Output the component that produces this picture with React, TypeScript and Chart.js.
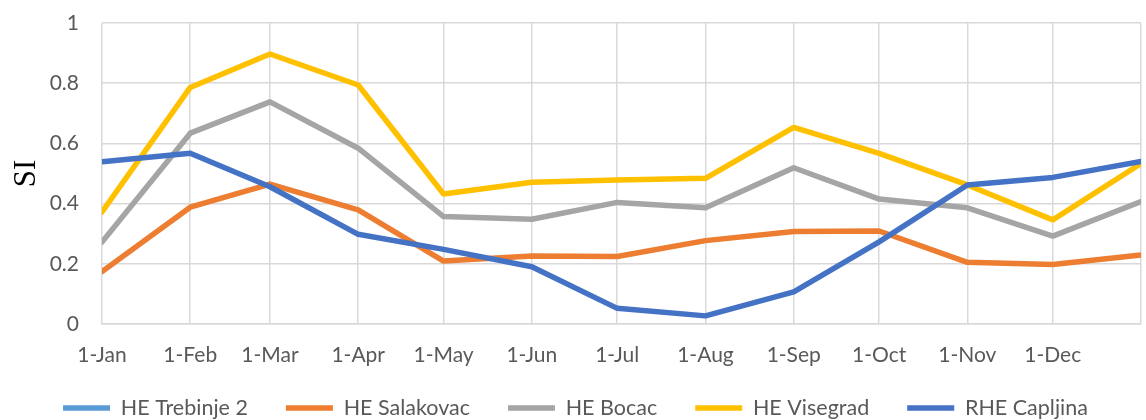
import React, { useEffect, useRef } from "react";
import { Chart, registerables } from "chart.js";

Chart.register(...registerables);

// Day-of-year for each month start (date axis), last entry = next 1-Jan
const monthDays = [0, 31, 59, 90, 120, 151, 181, 212, 243, 273, 304, 334, 365];
const monthLabels = ["1-Jan", "1-Feb", "1-Mar", "1-Apr", "1-May", "1-Jun", "1-Jul", "1-Aug", "1-Sep", "1-Oct", "1-Nov", "1-Dec", ""];
const yTicks = [0, 0.2, 0.4, 0.6, 0.8, 1];

const trebinje2: (number | null)[] = [null, null, null, null, null, null, null, null, null, null, null, null, null];
const salakovac = [0.174, 0.388, 0.465, 0.379, 0.209, 0.226, 0.224, 0.277, 0.307, 0.309, 0.205, 0.198, 0.229];
const bocac = [0.272, 0.634, 0.738, 0.584, 0.357, 0.348, 0.404, 0.386, 0.519, 0.415, 0.386, 0.292, 0.407];
const visegrad = [0.372, 0.786, 0.897, 0.794, 0.432, 0.471, 0.478, 0.484, 0.653, 0.567, 0.462, 0.346, 0.533];
const capljina = [0.539, 0.567, 0.456, 0.298, 0.248, 0.19, 0.052, 0.027, 0.107, 0.273, 0.462, 0.487, 0.54];

const seriesNames = ["HE Trebinje 2", "HE Salakovac", "HE Bocac", "HE Visegrad", "RHE Capljina"];
const seriesColors = ["#5B9BD5", "#ED7D31", "#A5A5A5", "#FFC000", "#4472C4"];
const seriesValues = [trebinje2, salakovac, bocac, visegrad, capljina];

const TEXT = "#595959";
const GRID = "#D9D9D9";
const TRANSPARENT = "rgba(0,0,0,0)";
const LEGEND_FONT = 21.5;
const LEGEND_PAD = 38;
const LEGEND_TEXT_Y = 408;
const X_AXIS_H = 48;
const PLOT_TOP = 23;
const PLOT_BOTTOM = 324;

const legendPlace = {
  id: "legendPlace",
  afterLayout(chart: any) {
    const lg = chart.legend;
    if (!lg) return;
    const d = LEGEND_TEXT_Y - (lg.top + LEGEND_PAD + LEGEND_FONT / 2);
    lg.top += d;
    lg.bottom += d;
  },
};

export default function App() {
  const ref = useRef<HTMLCanvasElement | null>(null);

  useEffect(() => {
    if (!ref.current) return;
    const datasets = seriesNames.map((name, i) => ({
      label: name,
      data: monthDays.map((d, j) => ({ x: d, y: seriesValues[i][j] })),
      borderColor: seriesColors[i],
      backgroundColor: seriesColors[i],
      borderWidth: 5.5,
      borderCapStyle: "round" as const,
      borderJoinStyle: "round" as const,
      pointRadius: 0,
      pointHoverRadius: 0,
      tension: 0,
      fill: false,
      order: seriesNames.length - i,
    }));

    const legendH = LEGEND_FONT + LEGEND_PAD + 10;
    const bottomPad = 420 - PLOT_BOTTOM - legendH - X_AXIS_H;

    const chart = new Chart(ref.current, {
      type: "line",
      data: { datasets },
      plugins: [legendPlace],
      options: {
        animation: false,
        responsive: false,
        layout: { padding: { left: 0, right: 9, top: PLOT_TOP, bottom: bottomPad } },
        plugins: {
          tooltip: { enabled: false },
          legend: {
            position: "bottom",
            labels: {
              usePointStyle: true,
              pointStyle: "line",
              pointStyleWidth: 47,
              boxHeight: 5,
              padding: LEGEND_PAD,
              color: TEXT,
              font: { family: "Lato", size: LEGEND_FONT },
              sort: (a: any, b: any) => a.datasetIndex - b.datasetIndex,
            },
          },
        },
        scales: {
          x: {
            type: "linear",
            min: 0,
            max: 365,
            afterBuildTicks: (s: any) => {
              s.ticks = monthDays.map((v) => ({ value: v }));
            },
            afterFit: (s: any) => {
              s.height = X_AXIS_H;
            },
            ticks: {
              autoSkip: false,
              maxRotation: 0,
              padding: 19,
              color: TEXT,
              font: { family: "Lato", size: 21 },
              callback: (v: any) => {
                const k = monthDays.indexOf(Number(v));
                return k >= 0 ? monthLabels[k] : "";
              },
            },
            grid: { color: GRID, lineWidth: 1.5, drawTicks: false },
            border: { display: true, color: GRID, width: 1.5 },
          },
          y: {
            min: 0,
            max: 1,
            afterBuildTicks: (s: any) => {
              s.ticks = yTicks.map((v) => ({ value: v }));
            },
            afterFit: (s: any) => {
              s.width = 102;
            },
            ticks: {
              padding: 0,
              color: TEXT,
              font: { family: "Lato", size: 21 },
              callback: (v: any) => String(v),
            },
            grid: { color: GRID, lineWidth: 1.5, drawTicks: true, tickLength: 23, tickColor: TRANSPARENT },
            border: { display: false },
            title: {
              display: true,
              text: "SI",
              color: "#000",
              font: { family: "Liberation Serif", size: 31 },
              padding: { top: 8, bottom: 0 },
            },
          },
        },
      },
    });
    return () => chart.destroy();
  }, []);

  return (
    <div style={{ position: "fixed", left: 0, top: 0, width: 1146, height: 420, overflow: "hidden", background: "#fff" }}>
      <canvas ref={ref} width={1160} height={420} style={{ display: "block" }} />
    </div>
  );
}
